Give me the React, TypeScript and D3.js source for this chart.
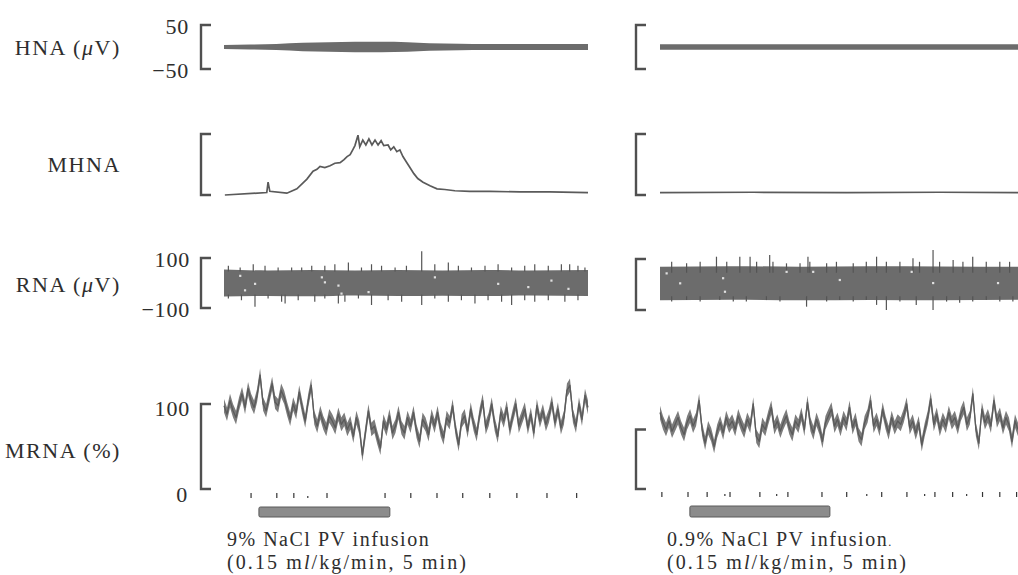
import React from 'react';
import * as d3 from 'd3';

// time axis: seconds since start of each record
const leftSpan = 834;
const rightSpan = 767;

// HNA envelope, half amplitude in uV  [sec, amp]
const hnaLeftEnv: [number, number][] = [
  [0, 4.5], [60, 5.5], [120, 7], [180, 9.5], [240, 11], [300, 12], [360, 12],
  [420, 11], [470, 8.5], [540, 7.5], [600, 7], [700, 7], [834, 7],
];
const hnaRightEnv: [number, number][] = [
  [0, 6], [200, 6.5], [400, 6.5], [600, 6], [767, 6.5],
];

// MHNA, arbitrary units (0 = baseline, 100 = top of bracket)
const mhnaLeft: [number, number][] = [
  [2, 0], [98, 4], [101, 21], [105, 6], [144, 3], [167, 10], [190, 26], [204, 39],
  [213, 42], [220, 47], [231, 45], [243, 48], [254, 52], [266, 53], [275, 58],
  [282, 63], [289, 66], [295, 74], [300, 81], [307, 98], [311, 79], [318, 90],
  [325, 82], [332, 92], [339, 82], [346, 90], [353, 82], [360, 89], [366, 81],
  [376, 82], [382, 74], [389, 79], [396, 71], [403, 74], [410, 63], [419, 53],
  [426, 45], [435, 35], [444, 27], [456, 21], [472, 15], [488, 10], [506, 9],
  [529, 7], [563, 6], [609, 6], [678, 5], [746, 5], [834, 4],
];
const mhnaRight: [number, number][] = [
  [0, 4], [200, 4.5], [400, 4], [600, 4.5], [767, 4],
];

// RNA, uV: band [sec, lower, upper], spikes [sec, value], holes [sec, value]
const rnaLeftBand: [number, number, number][] = [
  [0, -54, 54], [100, -52, 50], [200, -53, 52], [300, -50, 50], [400, -52, 52],
  [500, -51, 50], [600, -52, 52], [700, -50, 50], [834, -52, 52],
];
const rnaLeftUp: [number, number][] = [
  [10, 69], [37, 62], [67, 75], [94, 69], [124, 62], [155, 62], [178, 62], [201, 69],
  [231, 69], [254, 75], [285, 82], [315, 62], [338, 75], [361, 69], [392, 62],
  [418, 69], [453, 127], [483, 75], [514, 82], [537, 69], [567, 62], [598, 69],
  [628, 75], [659, 62], [689, 69], [712, 75], [743, 69], [773, 75], [792, 75],
  [811, 69], [827, 62],
];
const rnaLeftDown: [number, number][] = [
  [10, -62], [40, -69], [71, -95], [101, -62], [132, -75], [140, -82], [170, -69],
  [208, -75], [231, -62], [262, -82], [277, -75], [308, -62], [338, -88], [376, -69],
  [407, -75], [453, -88], [483, -62], [514, -75], [544, -69], [575, -82], [605, -69],
  [636, -75], [659, -88], [689, -69], [712, -75], [743, -69], [781, -75], [811, -69],
];
const rnaLeftHoles: [number, number][] = [
  [37, 29], [48, -29], [71, -3], [224, 23], [231, 3], [262, -10], [269, -42],
  [331, -36], [483, 23], [628, -3], [697, -16], [750, 10], [789, -23],
];
const rnaRightBand: [number, number, number][] = [
  [0, -62, 70], [150, -60, 72], [300, -62, 70], [450, -61, 72], [600, -62, 71], [767, -60, 70],
];
const rnaRightUp: [number, number][] = [
  [25, 89], [57, 83], [86, 89], [121, 109], [143, 89], [171, 109], [193, 109],
  [207, 89], [235, 116], [242, 89], [271, 83], [300, 83], [317, 109], [321, 89],
  [357, 83], [378, 89], [414, 83], [442, 89], [464, 109], [485, 89], [514, 89],
  [542, 103], [556, 89], [585, 135], [599, 89], [628, 96], [649, 89], [670, 109],
  [699, 89], [728, 89], [749, 89],
];
const rnaRightDown: [number, number][] = [
  [25, -67], [57, -61], [86, -67], [128, -61], [157, -67], [185, -67], [228, -61],
  [257, -67], [314, -87], [357, -67], [385, -61], [414, -67], [442, -61], [464, -80],
  [485, -100], [514, -67], [549, -80], [585, -100], [614, -67], [642, -72],
  [670, -67], [699, -61], [728, -67], [756, -67],
];
const rnaRightHoles: [number, number][] = [
  [14, 44], [43, 5], [135, 25], [139, -28], [271, 50], [328, 50], [385, 18],
  [539, 50], [585, 6], [724, 6],
];

// MRNA, % of control, evenly sampled across each record
const mrnaLeft: number[] = [
  98, 88, 104, 92, 84, 100, 112, 96, 118, 104,
  96, 110, 134, 100, 92, 108, 124, 102, 98, 116,
  108, 94, 82, 100, 90, 114, 96, 80, 104, 122,
  84, 74, 90, 78, 70, 86, 80, 72, 88, 76,
  82, 70, 78, 62, 84, 72, 40, 66, 92, 70,
  74, 60, 48, 80, 70, 86, 66, 74, 90, 72,
  66, 84, 74, 90, 68, 56, 82, 76, 64, 86,
  74, 90, 70, 60, 84, 78, 98, 70, 52, 80,
  86, 68, 94, 76, 64, 88, 104, 72, 82, 100,
  76, 62, 90, 80, 96, 70, 86, 100, 74, 84,
  94, 72, 88, 66, 98, 80, 92, 76, 86, 102,
  78, 94, 72, 84, 116, 122, 86, 74, 100, 82,
  110, 96,
];
const mrnaRight: number[] = [
  90, 78, 70, 80, 68, 76, 84, 72, 64, 78,
  86, 74, 82, 104, 70, 54, 72, 64, 50, 68,
  78, 66, 84, 74, 80, 70, 86, 76, 68, 82,
  74, 100, 62, 56, 76, 70, 84, 96, 72, 80,
  68, 78, 86, 72, 64, 80, 74, 88, 70, 102,
  76, 66, 82, 72, 56, 78, 86, 94, 74, 82,
  70, 84, 76, 96, 72, 82, 64, 58, 78, 86,
  104, 74, 82, 70, 94, 78, 66, 84, 72, 80,
  76, 86, 100, 72, 80, 66, 78, 52, 70, 84,
  106, 76, 88, 70, 82, 74, 90, 78, 84, 72,
  88, 96, 76, 84, 112, 70, 54, 94, 78, 86,
  74, 104, 80, 88, 72, 84, 76, 56, 80, 70,
];

// event marker ticks (sec)
const ticksLeft = [62, 121, 160, 236, 369, 428, 488, 547, 609, 671, 740, 808];
const dotsLeft = [192];
const ticksRight = [4, 60, 101, 150, 214, 274, 347, 400, 475, 529, 589, 627, 691, 728, 764];
const dotsRight = [139, 250, 443, 567, 657];

// infusion periods (sec)
const infusionLeft: [number, number] = [80, 380];
const infusionRight: [number, number] = [64, 364];

const rowLabels = ['HNA', 'MHNA', 'RNA', 'MRNA'];
const hnaTicks = ['50', '\u221250'];
const rnaTicks = ['100', '\u2212100'];
const mrnaTicks = ['100', '0'];
const captionLeft = ['9% NaCl PV infusion', '(0.15 m', 'l', '/kg/min, 5 min)'];
const captionRight = ['0.9% NaCl PV infusion', '.'];

const ink = '#2e2e2e';
const trace = '#6c6c6c';
const serif = '"Liberation Serif", "Times New Roman", serif';

export default function App() {
  const xL = d3.scaleLinear().domain([0, leftSpan]).range([224, 588]);
  const xR = d3.scaleLinear().domain([0, rightSpan]).range([660, 1018]);
  const yHna = d3.scaleLinear().domain([-50, 50]).range([69, 25]);
  const yMhna = d3.scaleLinear().domain([0, 100]).range([195, 134]);
  const yRna = d3.scaleLinear().domain([-100, 100]).range([308, 258]);
  const yRnaR = d3.scaleLinear().domain([-100, 100]).range([310, 259]);
  const yMrna = d3.scaleLinear().domain([0, 100]).range([489, 404]);

  const envArea = (x: d3.ScaleLinear<number, number>, env: [number, number][]) =>
    d3.area<[number, number]>()
      .x(d => x(d[0]))
      .y0(d => yHna(-d[1]))
      .y1(d => yHna(d[1]))
      .curve(d3.curveMonotoneX)(env) || '';

  const mhnaLine = (x: d3.ScaleLinear<number, number>, pts: [number, number][]) =>
    d3.line<[number, number]>().x(d => x(d[0])).y(d => yMhna(d[1]))(pts) || '';

  const bandArea = (x: d3.ScaleLinear<number, number>, y: d3.ScaleLinear<number, number>, b: [number, number, number][]) =>
    d3.area<[number, number, number]>()
      .x(d => x(d[0])).y0(d => y(d[1])).y1(d => y(d[2]))
      .curve(d3.curveMonotoneX)(b) || '';

  const mrnaLine = (x: d3.ScaleLinear<number, number>, span: number, vals: number[]) => {
    const step = span / (vals.length - 1);
    return d3.line<number>().x((_, i) => x(i * step)).y(d => yMrna(d))(vals) || '';
  };
  // the pen trace is a thick ribbon around the recorded value
  const mrnaRibbon = (x: d3.ScaleLinear<number, number>, span: number, vals: number[]) => {
    const step = span / (vals.length - 1);
    return d3.area<number>().x((_, i) => x(i * step))
      .y0(d => yMrna(d - 8)).y1(d => yMrna(d + 8))(vals) || '';
  };

  // "[" shaped scale bracket
  const bracket = (x0: number, y0: number, y1: number) =>
    `M${x0 + 10},${y0} H${x0} V${y1} H${x0 + 10}`;

  const rna = (
    x: d3.ScaleLinear<number, number>, y: d3.ScaleLinear<number, number>,
    band: [number, number, number][], up: [number, number][], down: [number, number][],
    holes: [number, number][], key: string
  ) => (
    <g key={key}>
      <path d={bandArea(x, y, band)} fill={trace} />
      {up.map(([t, v], i) => (
        <line key={'u' + i} x1={x(t)} x2={x(t)} y1={y(46)} y2={y(v)} stroke="#555" strokeWidth={1.2} />
      ))}
      {down.map(([t, v], i) => (
        <line key={'d' + i} x1={x(t)} x2={x(t)} y1={y(-46)} y2={y(v)} stroke="#555" strokeWidth={1.2} />
      ))}
      {holes.map(([t, v], i) => (
        <rect key={'h' + i} x={x(t) - 1} y={y(v) - 1} width={2.2} height={2.2} fill="#e0e0e0" />
      ))}
    </g>
  );

  const labelX = 121;
  const tickX = 189;

  return (
    <svg width={1018} height={575} style={{ position: 'absolute', left: 0, top: 0, background: '#fff' }}
      fontFamily={serif}>
      {/* row labels */}
      <g fill={ink} fontSize={22} letterSpacing={1.6} textAnchor="end" dominantBaseline="central">
        <text x={labelX} y={yHna(0)}>{rowLabels[0]} (<tspan fontStyle="italic">μ</tspan>V)</text>
        <text x={labelX} y={yMhna(50)}>{rowLabels[1]}</text>
        <text x={labelX} y={yRna(0) + 1}>{rowLabels[2]} (<tspan fontStyle="italic">μ</tspan>V)</text>
        <text x={labelX} y={yMrna(50) + 4}>{rowLabels[3]} (%)</text>
      </g>

      {/* bracket values */}
      <g fill={ink} fontSize={22} letterSpacing={0.8} textAnchor="end" dominantBaseline="central">
        <text x={tickX} y={yHna(50) + 1}>{hnaTicks[0]}</text>
        <text x={tickX} y={yHna(-50) + 1}>{hnaTicks[1]}</text>
        <text x={tickX + 1} y={yRna(100) + 1}>{rnaTicks[0]}</text>
        <text x={tickX + 1} y={yRna(-100) + 1}>{rnaTicks[1]}</text>
        <text x={tickX + 1} y={yMrna(100) + 4}>{mrnaTicks[0]}</text>
        <text x={tickX - 1} y={yMrna(0) + 5}>{mrnaTicks[1]}</text>
      </g>

      {/* brackets */}
      <g fill="none" stroke="#505050" strokeWidth={2.4}>
        <path d={bracket(201, yHna(50), yHna(-50))} />
        <path d={bracket(201, yMhna(100), yMhna(0))} />
        <path d={bracket(201, yRna(100), yRna(-100))} />
        <path d={bracket(201, yMrna(100), yMrna(0))} />
        <path d={bracket(636, yHna(50), yHna(-50))} />
        <path d={bracket(636, yMhna(100), yMhna(0))} />
        <path d={bracket(636, yRnaR(100), yRnaR(-100))} />
        <path d={bracket(636, yMrna(70), yMrna(0))} />
      </g>

      {/* HNA */}
      <path d={envArea(xL, hnaLeftEnv)} fill={trace} />
      <path d={envArea(xR, hnaRightEnv)} fill={trace} />

      {/* MHNA */}
      <path d={mhnaLine(xL, mhnaLeft)} fill="none" stroke="#5a5a5a" strokeWidth={1.7} />
      <path d={mhnaLine(xR, mhnaRight)} fill="none" stroke="#5a5a5a" strokeWidth={1.7} />

      {/* RNA */}
      {rna(xL, yRna, rnaLeftBand, rnaLeftUp, rnaLeftDown, rnaLeftHoles, 'rl')}
      {rna(xR, yRnaR, rnaRightBand, rnaRightUp, rnaRightDown, rnaRightHoles, 'rr')}

      {/* MRNA */}
      <path d={mrnaRibbon(xL, leftSpan, mrnaLeft)} fill="#7c7c7c" />
      <path d={mrnaRibbon(xR, rightSpan, mrnaRight)} fill="#7c7c7c" />
      <path d={mrnaLine(xL, leftSpan, mrnaLeft)} fill="none" stroke="#5a5a5a" strokeWidth={1.3} strokeLinejoin="round" />
      <path d={mrnaLine(xR, rightSpan, mrnaRight)} fill="none" stroke="#5a5a5a" strokeWidth={1.3} strokeLinejoin="round" />

      {/* event marks */}
      <g stroke="#333" strokeWidth={1.2}>
        {ticksLeft.map((t, i) => <line key={'tl' + i} x1={xL(t)} x2={xL(t)} y1={493} y2={498} />)}
        {dotsLeft.map((t, i) => <line key={'dl' + i} x1={xL(t)} x2={xL(t)} y1={496} y2={498} />)}
        {ticksRight.map((t, i) => <line key={'tr' + i} x1={xR(t)} x2={xR(t)} y1={492} y2={497} />)}
        {dotsRight.map((t, i) => <line key={'dr' + i} x1={xR(t)} x2={xR(t)} y1={494} y2={496} />)}
      </g>

      {/* infusion bars */}
      <rect x={xL(infusionLeft[0])} y={507} width={xL(infusionLeft[1]) - xL(infusionLeft[0])} height={10}
        rx={1.5} fill="#8c8c8c" stroke="#5a5a5a" strokeWidth={1} />
      <rect x={xR(infusionRight[0])} y={506} width={xR(infusionRight[1]) - xR(infusionRight[0])} height={11}
        rx={1.5} fill="#8c8c8c" stroke="#5a5a5a" strokeWidth={1} />

      {/* captions */}
      <g fill={ink} fontSize={20}>
        <text x={227} y={546} letterSpacing={1.5}>{captionLeft[0]}</text>
        <text x={227} y={569} letterSpacing={2.1}>{captionLeft[1]}<tspan fontStyle="italic">{captionLeft[2]}</tspan>{captionLeft[3]}</text>
        <text x={667} y={546} letterSpacing={1.5}>{captionRight[0]}<tspan fontSize={12}>{captionRight[1]}</tspan></text>
        <text x={667} y={569} letterSpacing={2.1}>{captionLeft[1]}<tspan fontStyle="italic">{captionLeft[2]}</tspan>{captionLeft[3]}</text>
      </g>
    </svg>
  );
}
